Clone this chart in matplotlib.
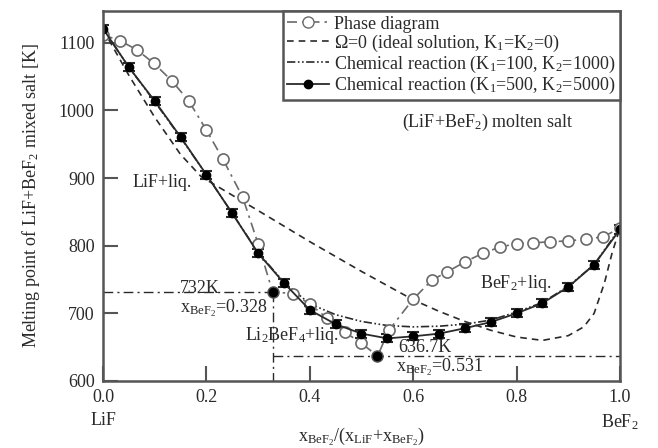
import matplotlib
matplotlib.use('Agg')
import matplotlib.pyplot as plt
from matplotlib.lines import Line2D
import numpy as np

plt.rcParams['font.family'] = ['Liberation Serif', 'DejaVu Serif']
plt.rcParams['mathtext.fontset'] = 'custom'
plt.rcParams['mathtext.rm'] = 'Liberation Serif'
plt.rcParams['mathtext.it'] = 'Liberation Serif:italic'
plt.rcParams['mathtext.default'] = 'rm'

# ── data ───────────────────────────────────────────────────────────────────
# phase diagram (open circles), special points (filled) included for the line
phase_x = [0.0, 0.033, 0.065, 0.098, 0.133, 0.166, 0.2, 0.232, 0.27, 0.30,
           0.328, 0.367, 0.40, 0.433, 0.468, 0.50, 0.531, 0.553, 0.60, 0.636,
           0.665, 0.70, 0.735, 0.768, 0.80, 0.832, 0.865, 0.90, 0.935, 0.967, 1.0]
phase_T = [1112, 1103, 1090, 1070, 1044, 1014, 971, 928, 872, 803,
           732, 729, 714, 693, 672, 656, 636.7, 675, 721, 749,
           761, 776, 789, 798, 803, 804, 806, 807, 810, 813, 826]
special_x = [0.328, 0.531]
special_T = [732, 636.7]

# ideal solution (Omega=0)
ideal_x = [0.0, 0.05, 0.10, 0.15, 0.19, 0.30, 0.40, 0.50, 0.60, 0.65, 0.70,
           0.75, 0.80, 0.85, 0.90, 0.93, 0.95, 0.97, 0.985, 1.0]
ideal_T = [1120, 1052, 990, 935, 902, 852, 806, 762, 720, 703, 688,
           675, 665, 660, 667, 680, 700, 745, 790, 826]

# chemical reaction models
chem_x = [0.0, 0.05, 0.10, 0.15, 0.20, 0.25, 0.30, 0.35, 0.40, 0.45, 0.50,
          0.55, 0.60, 0.65, 0.70, 0.75, 0.80, 0.85, 0.90, 0.95, 1.0]
k100_T = [1121, 1064, 1013, 960, 905, 848, 790, 746, 714, 698, 688,
          682, 680, 681, 684, 690, 702, 716, 740, 772, 826]
k500_T = [1121, 1064, 1014, 961, 905, 848, 789, 745, 705, 684, 670,
          663, 666, 670, 678, 687, 700, 715, 739, 772, 824]
k500_err = [6] * len(chem_x)

x_ticks = [0.0, 0.2, 0.4, 0.6, 0.8, 1.0]
x_labels = ['0.0', '0.2', '0.4', '0.6', '0.8', '1.0']
y_ticks = [600, 700, 800, 900, 1000, 1100]

# ── plot ───────────────────────────────────────────────────────────────────
fig, ax = plt.subplots(figsize=(6.58, 4.48), dpi=100)
fig.subplots_adjust(left=0.1565, right=0.9422, bottom=0.1496, top=0.9754)

dark = '#2a2a2a'
grey = '#6a6a6a'
dashdot = (0, (7, 3, 1.5, 3))

# guide lines at the peritectic / eutectic points
ax.plot([0.0, special_x[0]], [special_T[0], special_T[0]], color=dark, lw=1.0,
        linestyle=dashdot)
ax.plot([special_x[0], special_x[0]], [special_T[0], 600], color=dark, lw=1.0,
        linestyle=dashdot)
ax.plot([special_x[0], 1.0], [special_T[1], special_T[1]], color=dark, lw=1.0,
        linestyle=dashdot)

ax.plot(ideal_x, ideal_T, color=dark, lw=1.2, linestyle=(0, (4, 3)))
ax.plot(chem_x, k100_T, color=dark, lw=1.2, linestyle=(0, (5, 1.5, 1, 1.5, 1, 1.5)))
ax.errorbar(chem_x, k500_T, yerr=k500_err, color=dark, lw=1.3, marker='o',
            ms=6, mfc='black', mec='black', ecolor=dark, elinewidth=1.5,
            capsize=4, capthick=1.5)

ax.plot(phase_x, phase_T, color=grey, lw=1.2, linestyle=(0, (6, 3, 1.5, 3)))
reg = [i for i, x in enumerate(phase_x) if x not in special_x]
ax.plot([phase_x[i] for i in reg], [phase_T[i] for i in reg], linestyle='none',
        marker='o', ms=8, mfc='white', mec=grey, mew=1.2)
ax.plot(special_x, special_T, linestyle='none', marker='o', ms=8,
        mfc='black', mec='#555555', mew=1.0)

ax.set_xlim(0, 1.0)
ax.set_ylim(600, 1147)
ax.set_xticks(x_ticks)
ax.set_xticklabels(x_labels)
ax.set_yticks(y_ticks)
ax.tick_params(direction='in', length=11, width=1.5, color='#555555',
               labelsize=13, labelcolor=dark, pad=6)
for s in ax.spines.values():
    s.set_color('#555555')
    s.set_linewidth(1.8)

ax.text(0.0, -0.108, 'LiF', transform=ax.transAxes, ha='center', va='center',
        fontsize=13, color=dark)
ax.text(1.0, -0.111, 'BeF$_2$', transform=ax.transAxes, ha='center', va='center',
        fontsize=13, color=dark)
ax.set_xlabel(r'x$_{\mathrm{BeF_2}}$/(x$_{\mathrm{LiF}}$+x$_{\mathrm{BeF_2}}$)',
              fontsize=13, color=dark, labelpad=14)
ax.set_ylabel('Melting point of LiF+BeF$_2$ mixed salt [K]', fontsize=13,
              color=dark, labelpad=12)

tkw = dict(fontsize=13, color=dark, va='center')
ax.text(0.058, 894, 'LiF+liq.', **tkw)
ax.text(0.578, 983, '(LiF+BeF$_2$) molten salt', **tkw)
ax.text(0.149, 737, '732K', **tkw)
ax.text(0.149, 708, r'x$_{\mathrm{BeF_2}}$=0.328', **tkw)
ax.text(0.275, 667, 'Li$_2$BeF$_4$+liq.', **tkw)
ax.text(0.571, 649, '636.7K', **tkw)
ax.text(0.567, 621, r'x$_{\mathrm{BeF_2}}$=0.531', **tkw)
ax.text(0.729, 744, 'BeF$_2$+liq.', **tkw)

handles = [
    Line2D([], [], color=grey, lw=1.2, linestyle=(0, (6, 3, 1.5, 3)), marker='o',
           ms=8, mfc='white', mec=grey),
    Line2D([], [], color=dark, lw=1.2, linestyle=(0, (4, 3))),
    Line2D([], [], color=dark, lw=1.2, linestyle=(0, (5, 1.5, 1, 1.5, 1, 1.5))),
    Line2D([], [], color=dark, lw=1.3, marker='o', ms=6, mfc='black', mec='black'),
]
labels = ['Phase diagram',
          'Ω=0 (ideal solution, K$_1$=K$_2$=0)',
          'Chemical reaction (K$_1$=100, K$_2$=1000)',
          'Chemical reaction (K$_1$=500, K$_2$=5000)']
leg = ax.legend(handles, labels, loc='upper right', fontsize=13, frameon=True,
                fancybox=False, framealpha=1, edgecolor='#555555',
                borderaxespad=0, borderpad=0.25, labelspacing=0.0,
                handlelength=2.3, handletextpad=0.3)
leg.get_frame().set_linewidth(1.8)
for t in leg.get_texts():
    t.set_color(dark)

plt.savefig('out.png', dpi=100)
